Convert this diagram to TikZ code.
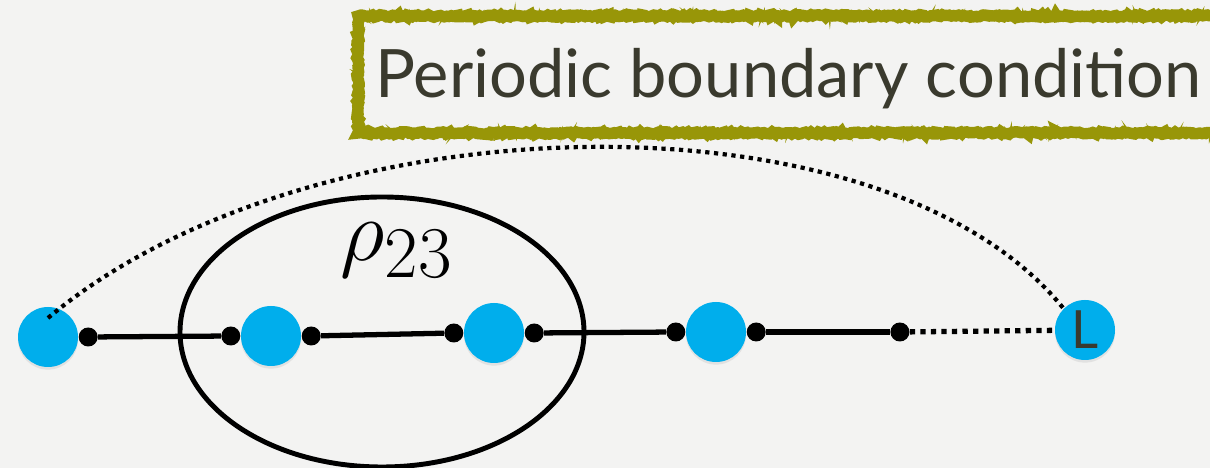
\documentclass[tikz,border=0pt]{standalone}
\usepackage{fontspec}
\newfontfamily\labelfont{Lato}
\usetikzlibrary{positioning, shapes.geometric, shadows, decorations.pathmorphing}

\definecolor{paper}{RGB}{243,243,242}
\definecolor{siteblue}{RGB}{0,174,236}
\definecolor{frameolive}{RGB}{152,150,8}
\definecolor{inkgray}{RGB}{58,58,46}

\begin{document}
\begin{tikzpicture}[
    node distance=0pt,
    site/.style={circle, fill=siteblue, inner sep=0pt, minimum size=1.2cm,
        drop shadow={shadow xshift=0pt, shadow yshift=-1.5pt, opacity=0.15}},
    joint/.style={circle, fill=black, inner sep=0pt, minimum size=0.38cm},
    bond/.style={line width=3pt},
    openbond/.style={line width=3pt, dash pattern=on 3pt off 3pt},
    wrap/.style={line width=2.4pt, dash pattern=on 2.4pt off 2.6pt},
    frame/.style={draw=frameolive, line width=6.5pt,
        decorate, decoration={random steps, segment length=1.2pt, amplitude=0.7pt}}
]

% background
\fill[paper] (0,0) rectangle (24.2,9.36);
\useasboundingbox (0,0) rectangle (24.2,9.36);
\clip (0,0) rectangle (24.2,9.36);

% ============ TITLE ============
\draw[frame] (7.16,6.70) rectangle (24.8,9.04);
\draw[frame, line width=1.5pt, decoration={random steps, segment length=0.8pt, amplitude=1.3pt}]
    (7.16,6.70) rectangle (24.8,9.04);
\node[anchor=base west, inner sep=0pt, text=inkgray,
    font=\labelfont\fontsize{38}{44}\selectfont] (title) at (7.5,7.4) {Periodic boundary condition};

% ============ SITES ============
\node[site] (s1) at (0.96,2.62) {};
\node[site] (s2) at (5.42,2.64) {};
\node[site] (s3) at (9.88,2.70) {};
\node[site] (s4) at (14.32,2.72) {};
\node[site, font=\labelfont\fontsize{30}{34}\selectfont, text=inkgray] (sL) at (21.70,2.76) {L};

% joints on either side of the sites
\node[joint, right=of s1] (j1r) {};
\node[joint, left=of s2] (j2l) {};
\node[joint, right=of s2] (j2r) {};
\node[joint, left=of s3] (j3l) {};
\node[joint, right=of s3] (j3r) {};
\node[joint, left=of s4] (j4l) {};
\node[joint, right=of s4] (j4r) {};
\node[joint, right=2.48cm of j4r] (j5) {};

% ============ BONDS ============
\draw[bond] (j1r) -- (j2l);
\draw[bond] (j2r) -- (j3l);
\draw[bond] (j3r) -- (j4l);
\draw[bond] (j4r) -- (j5);
\draw[openbond] (j5) -- (sL);

% periodic wrap-around
\draw[wrap] ([yshift=0.38cm]s1.center) .. controls (6.2,7.4) and (17.66,7.66) .. (sL.north west);

% ============ REDUCED DENSITY MATRIX ============
\node[ellipse, draw, line width=2.8pt, minimum width=8.08cm, minimum height=5.4cm] (rho) at (7.64,2.72) {};
\node[font=\Huge, scale=2] (rholabel) at (7.94,4.36) {$\rho_{23}$};

\end{tikzpicture}
\end{document}
